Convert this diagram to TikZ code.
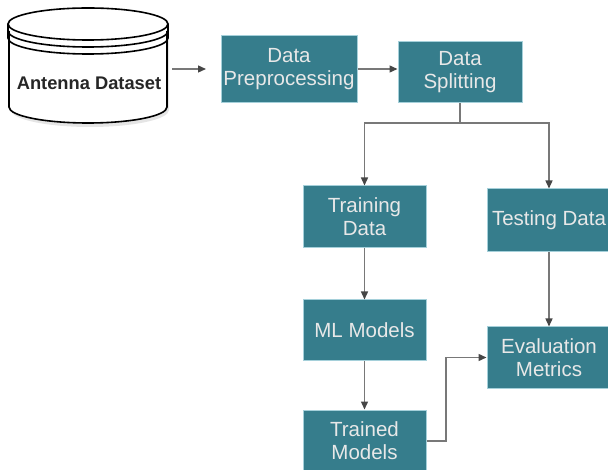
\documentclass[tikz,border=0pt]{standalone}
\usepackage{fontspec}
\setmainfont{Liberation Sans}
\usetikzlibrary{arrows.meta}
\definecolor{boxfill}{RGB}{54,125,140}
\definecolor{boxline}{RGB}{165,208,218}
\definecolor{boxtext}{RGB}{232,232,232}
\definecolor{linkgray}{RGB}{120,120,120}
\definecolor{tipgray}{RGB}{70,70,70}
\tikzset{
  stepbox/.style={draw=boxline, line width=1pt, fill=boxfill, text=boxtext,
    font=\fontsize{20.5}{23}\selectfont, align=center, inner sep=0pt},
  link/.style={draw=linkgray, line width=1.4pt,
    -{Triangle[length=8pt,width=7pt,fill=tipgray,color=tipgray]}},
}
\begin{document}
\begin{tikzpicture}[x=1pt,y=-1pt]
\useasboundingbox (0,0) rectangle (608,470);
% cylinder
\fill[black!10] (11,34) -- (11,110) arc[start angle=180,end angle=0,x radius=79,y radius=17] -- (169,34) -- cycle;
\draw[line width=1.6pt, fill=white] (9,31) -- (9,107) arc[start angle=180,end angle=0,x radius=79,y radius=16] -- (167,31);
\draw[line width=1.6pt, fill=white] (88,24) ellipse[x radius=80,y radius=16];
\draw[line width=1.6pt] (8,24) -- (8,31) arc[start angle=180,end angle=0,x radius=80,y radius=16] -- (168,24);
\draw[line width=1.6pt] (8,31) -- (8,38) arc[start angle=180,end angle=0,x radius=80,y radius=16] -- (168,31);
\node[font=\bfseries\fontsize{18.3}{20}\selectfont, text=black!85, inner sep=0pt] (ds) at (89,83) {Antenna Dataset};
\coordinate (dsr) at (172,69);
\coordinate (dsend) at (206,69);
% boxes
\node[stepbox, minimum width=136pt, minimum height=67pt] (prep) at (289,69) {Data\\Preprocessing};
\node[stepbox, minimum width=124pt, minimum height=61pt] (split) at (460,72.5) {Data\\Splitting};
\node[stepbox, minimum width=123pt, minimum height=62pt] (train) at (364.5,217) {Training\\Data};
\node[stepbox, minimum width=124pt, minimum height=63pt] (test) at (549,220.5) {Testing Data};
\node[stepbox, minimum width=123pt, minimum height=61pt] (ml) at (364.5,330.5) {ML Models};
\node[stepbox, minimum width=123pt, minimum height=62pt] (trained) at (364.5,441) {Trained\\Models};
\node[stepbox, minimum width=124pt, minimum height=61pt] (eval) at (549,357.5) {Evaluation\\Metrics};
% connectors
\draw[link] (dsr) -- (dsend);
\draw[link] (prep.east) -- (prep.east -| split.west);
\coordinate (fork) at (460,123);
\draw[draw=linkgray, line width=1.4pt] (split.south) -- (fork);
\draw[link] (fork) -| (train.north);
\draw[link] (fork) -| (test.north);
\draw[link] (train.south) -- (ml.north);
\draw[link] (ml.south) -- (trained.north);
\draw[link] (test.south) -- (eval.north);
\draw[link] (trained.east) -- (446,441) |- (eval.west);
\end{tikzpicture}
\end{document}
